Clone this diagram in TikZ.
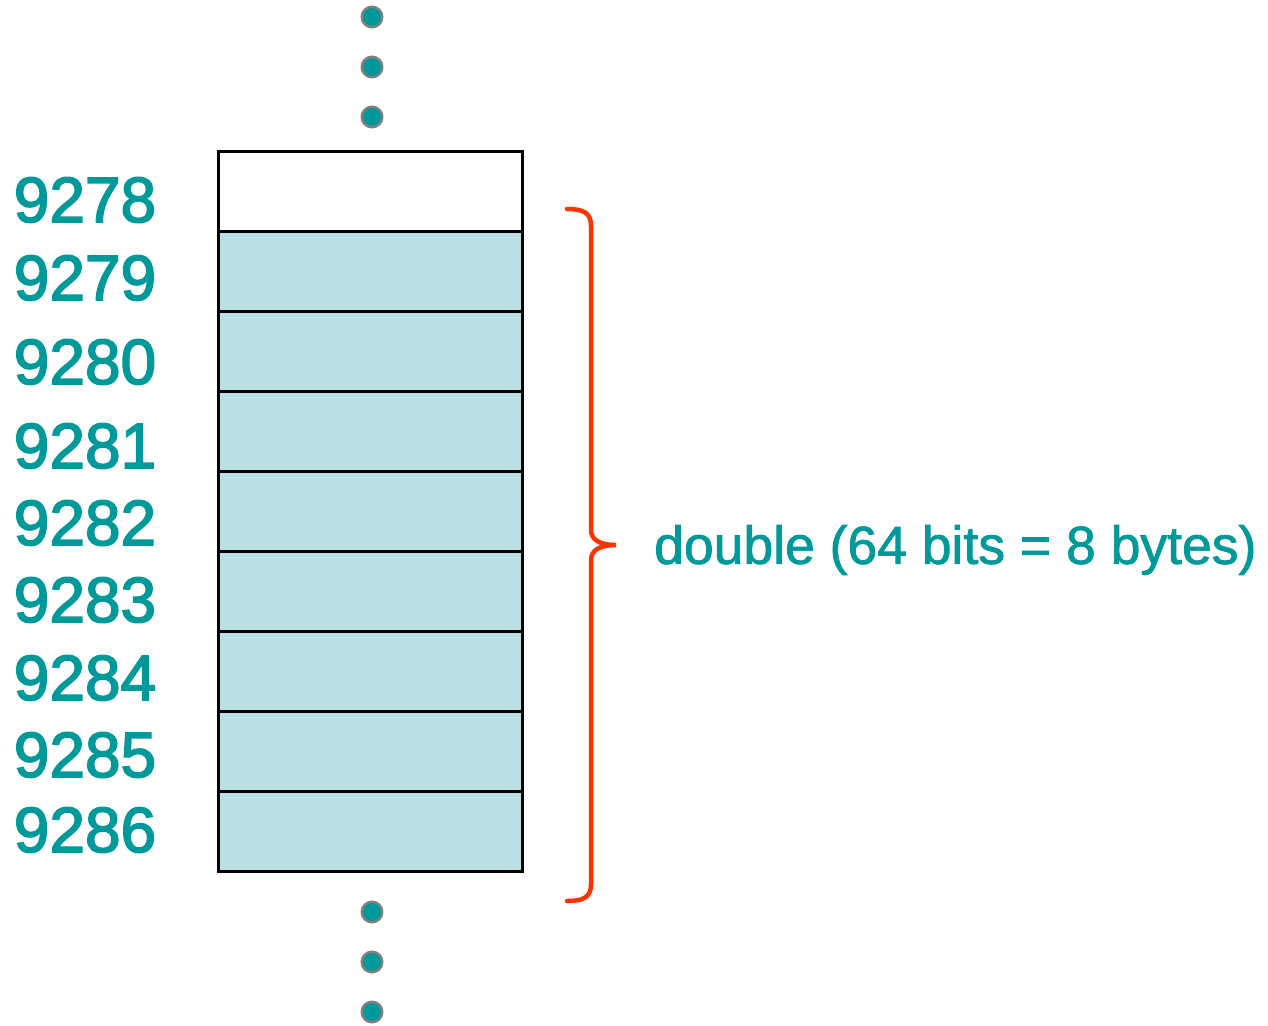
\documentclass[tikz,border=0pt]{standalone}
\usepackage{fontspec}
\setmainfont{Liberation Sans}
\newfontfamily\addrfont[FakeBold=2.5]{Liberation Sans}
\newfontfamily\notefont[FakeBold=1.5]{Liberation Sans}
\definecolor{teal}{RGB}{0,153,153}
\definecolor{cellfill}{RGB}{186,224,227}
\definecolor{bracered}{RGB}{255,51,0}
\definecolor{dotrim}{RGB}{128,128,128}
\begin{document}
\begin{tikzpicture}[x=1pt,y=-1pt,
  cell/.style={draw=black,line width=3pt,rectangle,minimum width=304pt,minimum height=80pt,inner sep=0pt,outer sep=0pt},
  addr/.style={text=teal,font=\addrfont\fontsize{64}{64}\selectfont,anchor=center,inner sep=0pt},
  dot/.style={circle,fill=teal,draw=dotrim,line width=2.5pt,minimum size=20.5pt,inner sep=0pt},
  note/.style={text=teal,font=\notefont\fontsize{53.5}{54}\selectfont,anchor=west,inner sep=0pt}]
\useasboundingbox (0,0) rectangle (1268,1025);

% memory cells
\node[cell,fill=white] (c0) at (370,191) {};
\foreach \i [evaluate=\i as \y using 191+80*\i] in {1,...,8}
  \node[cell,fill=cellfill] (c\i) at (370,\y) {};
\draw[line width=3pt] (c0.north west) rectangle (c8.south east);

% addresses
\node[addr] (a0) at (85,200) {9278};
\node[addr] (a1) at (85,278) {9279};
\node[addr] (a2) at (85,362) {9280};
\node[addr] (a3) at (85,446) {9281};
\node[addr] (a4) at (85,523) {9282};
\node[addr] (a5) at (85,600) {9283};
\node[addr] (a6) at (85,678) {9284};
\node[addr] (a7) at (85,755) {9285};
\node[addr] (a8) at (85,830) {9286};

% ellipsis dots
\foreach \n/\y in {t1/17,t2/67,t3/117,b1/912,b2/962,b3/1012}
  \node[dot] (\n) at (372,\y) {};

% brace spanning the double
\coordinate (btop) at (567,209);
\coordinate (bbot) at (567,901);
\coordinate (btip) at (616,545);
\draw[bracered,line width=4.5pt,line cap=round]
  (btop) .. controls (584,209) and (591,213) .. (591,226)
  -- (591,530) .. controls (591,540) and (600,545) .. (btip)
  .. controls (600,545) and (591,550) .. (591,560)
  -- (591,884) .. controls (591,897) and (584,901) .. (bbot);

\node[note] (lbl) at (654,550) {double (64 bits = 8 bytes)};
\end{tikzpicture}
\end{document}
